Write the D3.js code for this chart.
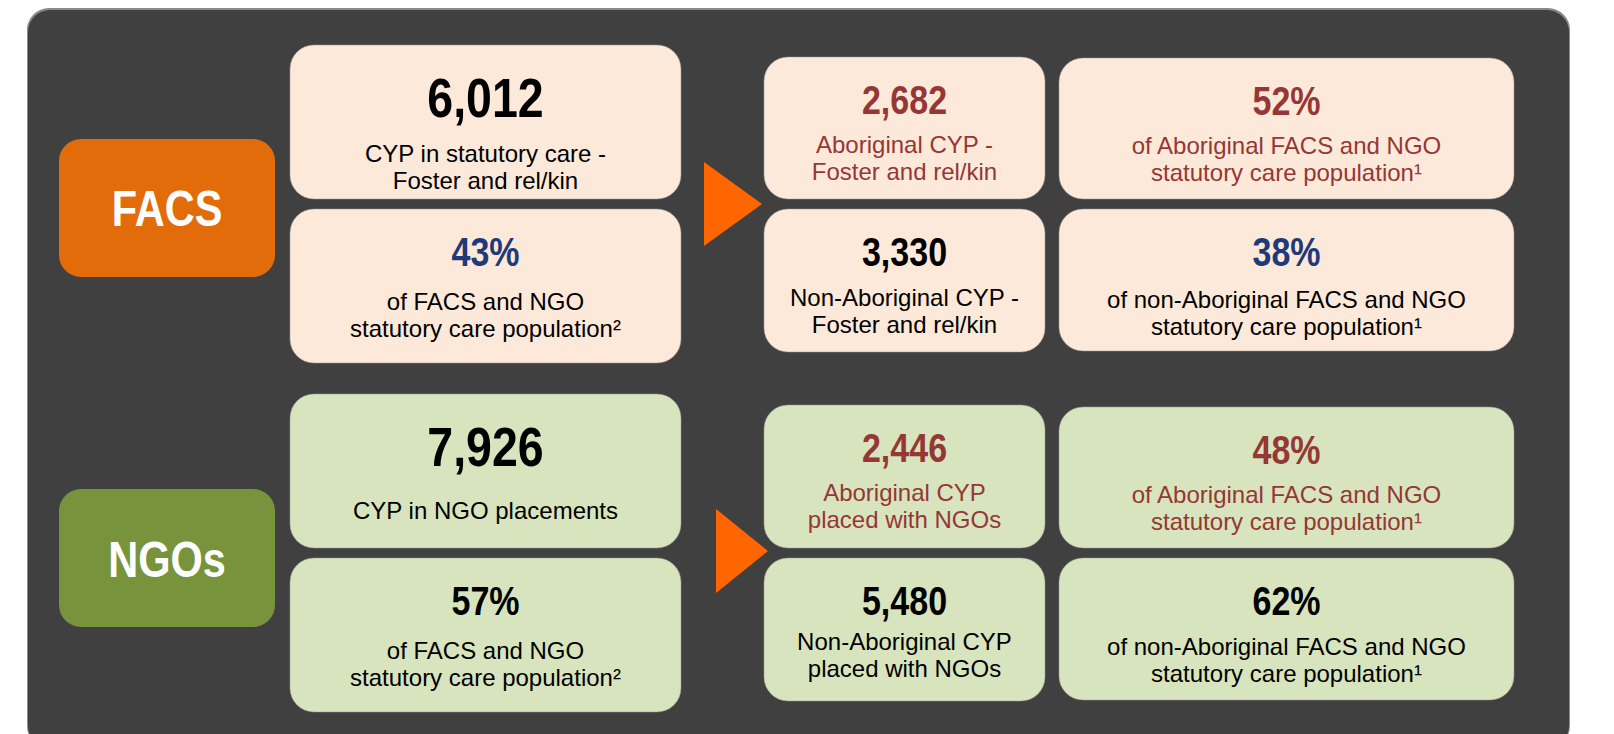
<!DOCTYPE html>
<html>
<head>
<meta charset="utf-8">
<script src="https://cdn.jsdelivr.net/npm/d3@7"></script>
<style>
  html, body { margin: 0; padding: 0; background: #ffffff; }
  svg { display: block; }
</style>
</head>
<body>
<svg id="chart" width="1614" height="734"></svg>
<script>
// ---------------- DATA ----------------
const groups = ["FACS", "NGOs"];
const totals = [6012, 7926];
const totalLabels = [["CYP in statutory care -", "Foster and rel/kin"], ["CYP in NGO placements"]];
const shareOfAll = [43, 57];
const shareOfAllLabels = [["of FACS and NGO", "statutory care population\u00B2"], ["of FACS and NGO", "statutory care population\u00B2"]];
const aboriginalCounts = [2682, 2446];
const aboriginalLabels = [["Aboriginal CYP -", "Foster and rel/kin"], ["Aboriginal CYP", "placed with NGOs"]];
const nonAboriginalCounts = [3330, 5480];
const nonAboriginalLabels = [["Non-Aboriginal CYP -", "Foster and rel/kin"], ["Non-Aboriginal CYP", "placed with NGOs"]];
const aboriginalShare = [52, 48];
const aboriginalShareLabels = [["of Aboriginal FACS and NGO", "statutory care population\u00B9"], ["of Aboriginal FACS and NGO", "statutory care population\u00B9"]];
const nonAboriginalShare = [38, 62];
const nonAboriginalShareLabels = [["of non-Aboriginal FACS and NGO", "statutory care population\u00B9"], ["of non-Aboriginal FACS and NGO", "statutory care population\u00B9"]];

// ---------------- STYLE ----------------
const FONT = "'Liberation Sans', Arial, sans-serif";
const NARROW = 0.83;
const groupFill = { FACS: "#E36C0A", NGOs: "#77933C" };
const boxFill = { FACS: "#FDE9D9", NGOs: "#D7E4BD" };
const RED = "#953735", NAVY = "#1F3A78", BLACK = "#000000";
const fmtN = d3.format(",");
const fmtP = v => v + "%";

const svg = d3.select("#chart");

// Panel
svg.append("rect").attr("x", 27).attr("y", 8).attr("width", 1543).attr("height", 740)
  .attr("rx", 22).attr("fill", "#8a8a8a");
svg.append("rect").attr("x", 28).attr("y", 10).attr("width", 1541).attr("height", 738)
  .attr("rx", 22).attr("fill", "#404040");

// Row offsets for the two groups
const rowY = d3.scaleOrdinal().domain(groups).range([0, 349]);

// Column layout
const cols = {
  c1: { x: 290, w: 391 },
  c2: { x: 764, w: 281 },
  c3: { x: 1059, w: 455 }
};

// narrow bold text helper (condensed via horizontal scale)
function narrowText(sel, cx, y, size, fill, txt) {
  sel.append("g")
    .attr("transform", `translate(${cx},${y}) scale(${NARROW},1)`)
    .append("text")
    .attr("x", 0).attr("y", 0)
    .attr("text-anchor", "middle")
    .attr("font-family", FONT).attr("font-weight", "bold")
    .attr("font-size", size)
    .attr("fill", fill)
    .text(txt);
}

// Group label boxes
const gLabel = svg.selectAll("g.glabel").data(groups).join("g").attr("class", "glabel");
gLabel.append("rect")
  .attr("x", 59).attr("y", d => 139 + rowY(d) + (d === "NGOs" ? 1 : 0))
  .attr("width", 216).attr("height", 138).attr("rx", 22)
  .attr("fill", d => groupFill[d]);
gLabel.each(function(d) {
  narrowText(d3.select(this), 167, 226 + rowY(d) + (d === "NGOs" ? 2 : 0), 50, "#ffffff", d);
});

// Arrows
const arrowLine = d3.line();
svg.selectAll("path.arrow").data(groups).join("path").attr("class", "arrow")
  .attr("d", (d, i) => {
    const x0 = i === 0 ? 704 : 716, x1 = i === 0 ? 762 : 768;
    const yc = i === 0 ? 204 : 551;
    return arrowLine([[x0, yc - 42], [x1, yc], [x0, yc + 42]]) + "Z";
  })
  .attr("fill", "#FF6600");

// Build card list
const cards = [];
groups.forEach((g, i) => {
  cards.push({ g, col: "c1", y: i === 0 ? 45 : 394, h: 154, value: fmtN(totals[i]), lines: totalLabels[i], color: BLACK, big: true });
  cards.push({ g, col: "c1", y: i === 0 ? 209 : 558, h: 154, value: fmtP(shareOfAll[i]), lines: shareOfAllLabels[i], color: i === 0 ? NAVY : BLACK, l1: 101 });
  cards.push({ g, col: "c2", y: i === 0 ? 57 : 405, h: i === 0 ? 142 : 143, value: fmtN(aboriginalCounts[i]), lines: aboriginalLabels[i], color: RED, textColor: RED, l1: 96 });
  cards.push({ g, col: "c2", y: 558 - (i === 0 ? 349 : 0), h: 143, value: fmtN(nonAboriginalCounts[i]), lines: nonAboriginalLabels[i], color: BLACK, l1: i === 0 ? 97 : 92 });
  cards.push({ g, col: "c3", y: i === 0 ? 58 : 407, h: 141, value: fmtP(aboriginalShare[i]), lines: aboriginalShareLabels[i], color: RED, textColor: RED, l1: 96 });
  cards.push({ g, col: "c3", y: 558 - (i === 0 ? 349 : 0), h: 142, value: fmtP(nonAboriginalShare[i]), lines: nonAboriginalShareLabels[i], color: i === 0 ? NAVY : BLACK, l1: i === 0 ? 99 : 97 });
});

const card = svg.selectAll("g.card").data(cards).join("g").attr("class", "card")
  .attr("transform", d => `translate(${cols[d.col].x},${d.y})`);

card.append("rect")
  .attr("width", d => cols[d.col].w).attr("height", d => d.h)
  .attr("rx", 24)
  .attr("fill", d => boxFill[d.g])
  .attr("stroke", "#9a9a9a").attr("stroke-opacity", 0.5).attr("stroke-width", 1);

card.each(function(d) {
  const sel = d3.select(this);
  const cx = cols[d.col].w / 2;
  narrowText(sel, cx, d.big ? 72 : 57, d.big ? 56 : 41, d.color, d.value);
  const first = d.big ? (d.lines.length === 1 ? 125 : 117) : d.l1;
  d.lines.forEach((ln, k) => {
    sel.append("text")
      .attr("x", cx)
      .attr("y", first + k * 27)
      .attr("text-anchor", "middle")
      .attr("font-family", FONT)
      .attr("font-size", 24)
      .attr("fill", d.textColor || BLACK)
      .text(ln);
  });
});
</script>
</body>
</html>
